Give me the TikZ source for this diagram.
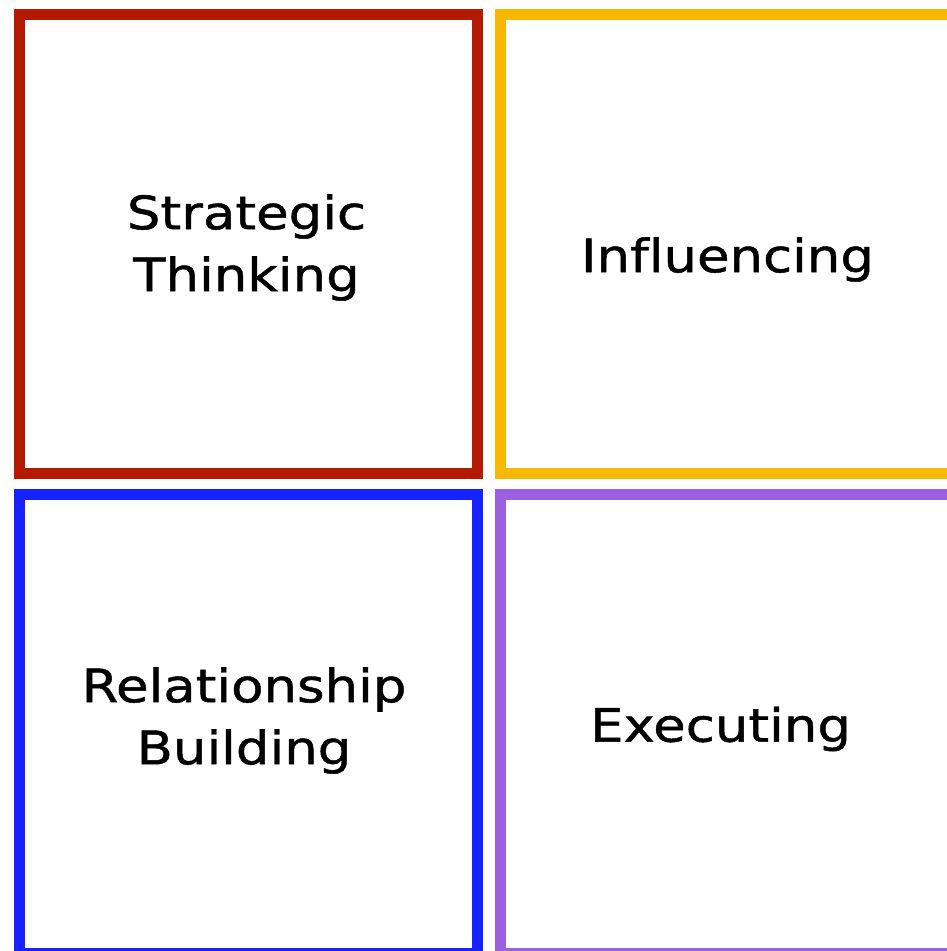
\documentclass[tikz,border=0pt]{standalone}
\usepackage{fontspec}
\newfontfamily\quadfont[FakeStretch=1.15,FakeBold=1,Ligatures=NoCommon]{DejaVu Sans}
\usetikzlibrary{positioning}

\definecolor{stratred}{RGB}{180,26,0}
\definecolor{inflyellow}{RGB}{246,185,0}
\definecolor{relblue}{RGB}{22,34,255}
\definecolor{execpurple}{RGB}{156,95,223}

\tikzset{
  quad/.style={draw, rectangle, line width=11pt, minimum width=458pt, minimum height=459pt, inner sep=0pt},
  quadlabel/.style={align=center, inner sep=0pt, font=\quadfont\fontsize{46}{62}\selectfont}
}

\begin{document}
\begin{tikzpicture}[x=1pt, y=-1pt]
    \useasboundingbox (0,0) rectangle (947,951);
    \clip (0,0) rectangle (947,951);

    \node[quad, draw=stratred] (strat) at (248.5,244.25) {};
    \node[quad, draw=inflyellow] (infl) at (729,244.25) {};
    \node[quad, draw=relblue] (rel) at (248.5,724) {};
    \node[quad, draw=execpurple] (exec) at (729,724) {};

    \node[quadlabel] (stratlbl) at (246.5,247.5) {Strategic\\Thinking};
    \node[quadlabel] (infllbl) at (727.5,259.5) {Influencing};
    \node[quadlabel] (rellbl) at (244,720.5) {Relationship\\Building};
    \node[quadlabel] (execlbl) at (720.5,729) {Executing};
\end{tikzpicture}
\end{document}
